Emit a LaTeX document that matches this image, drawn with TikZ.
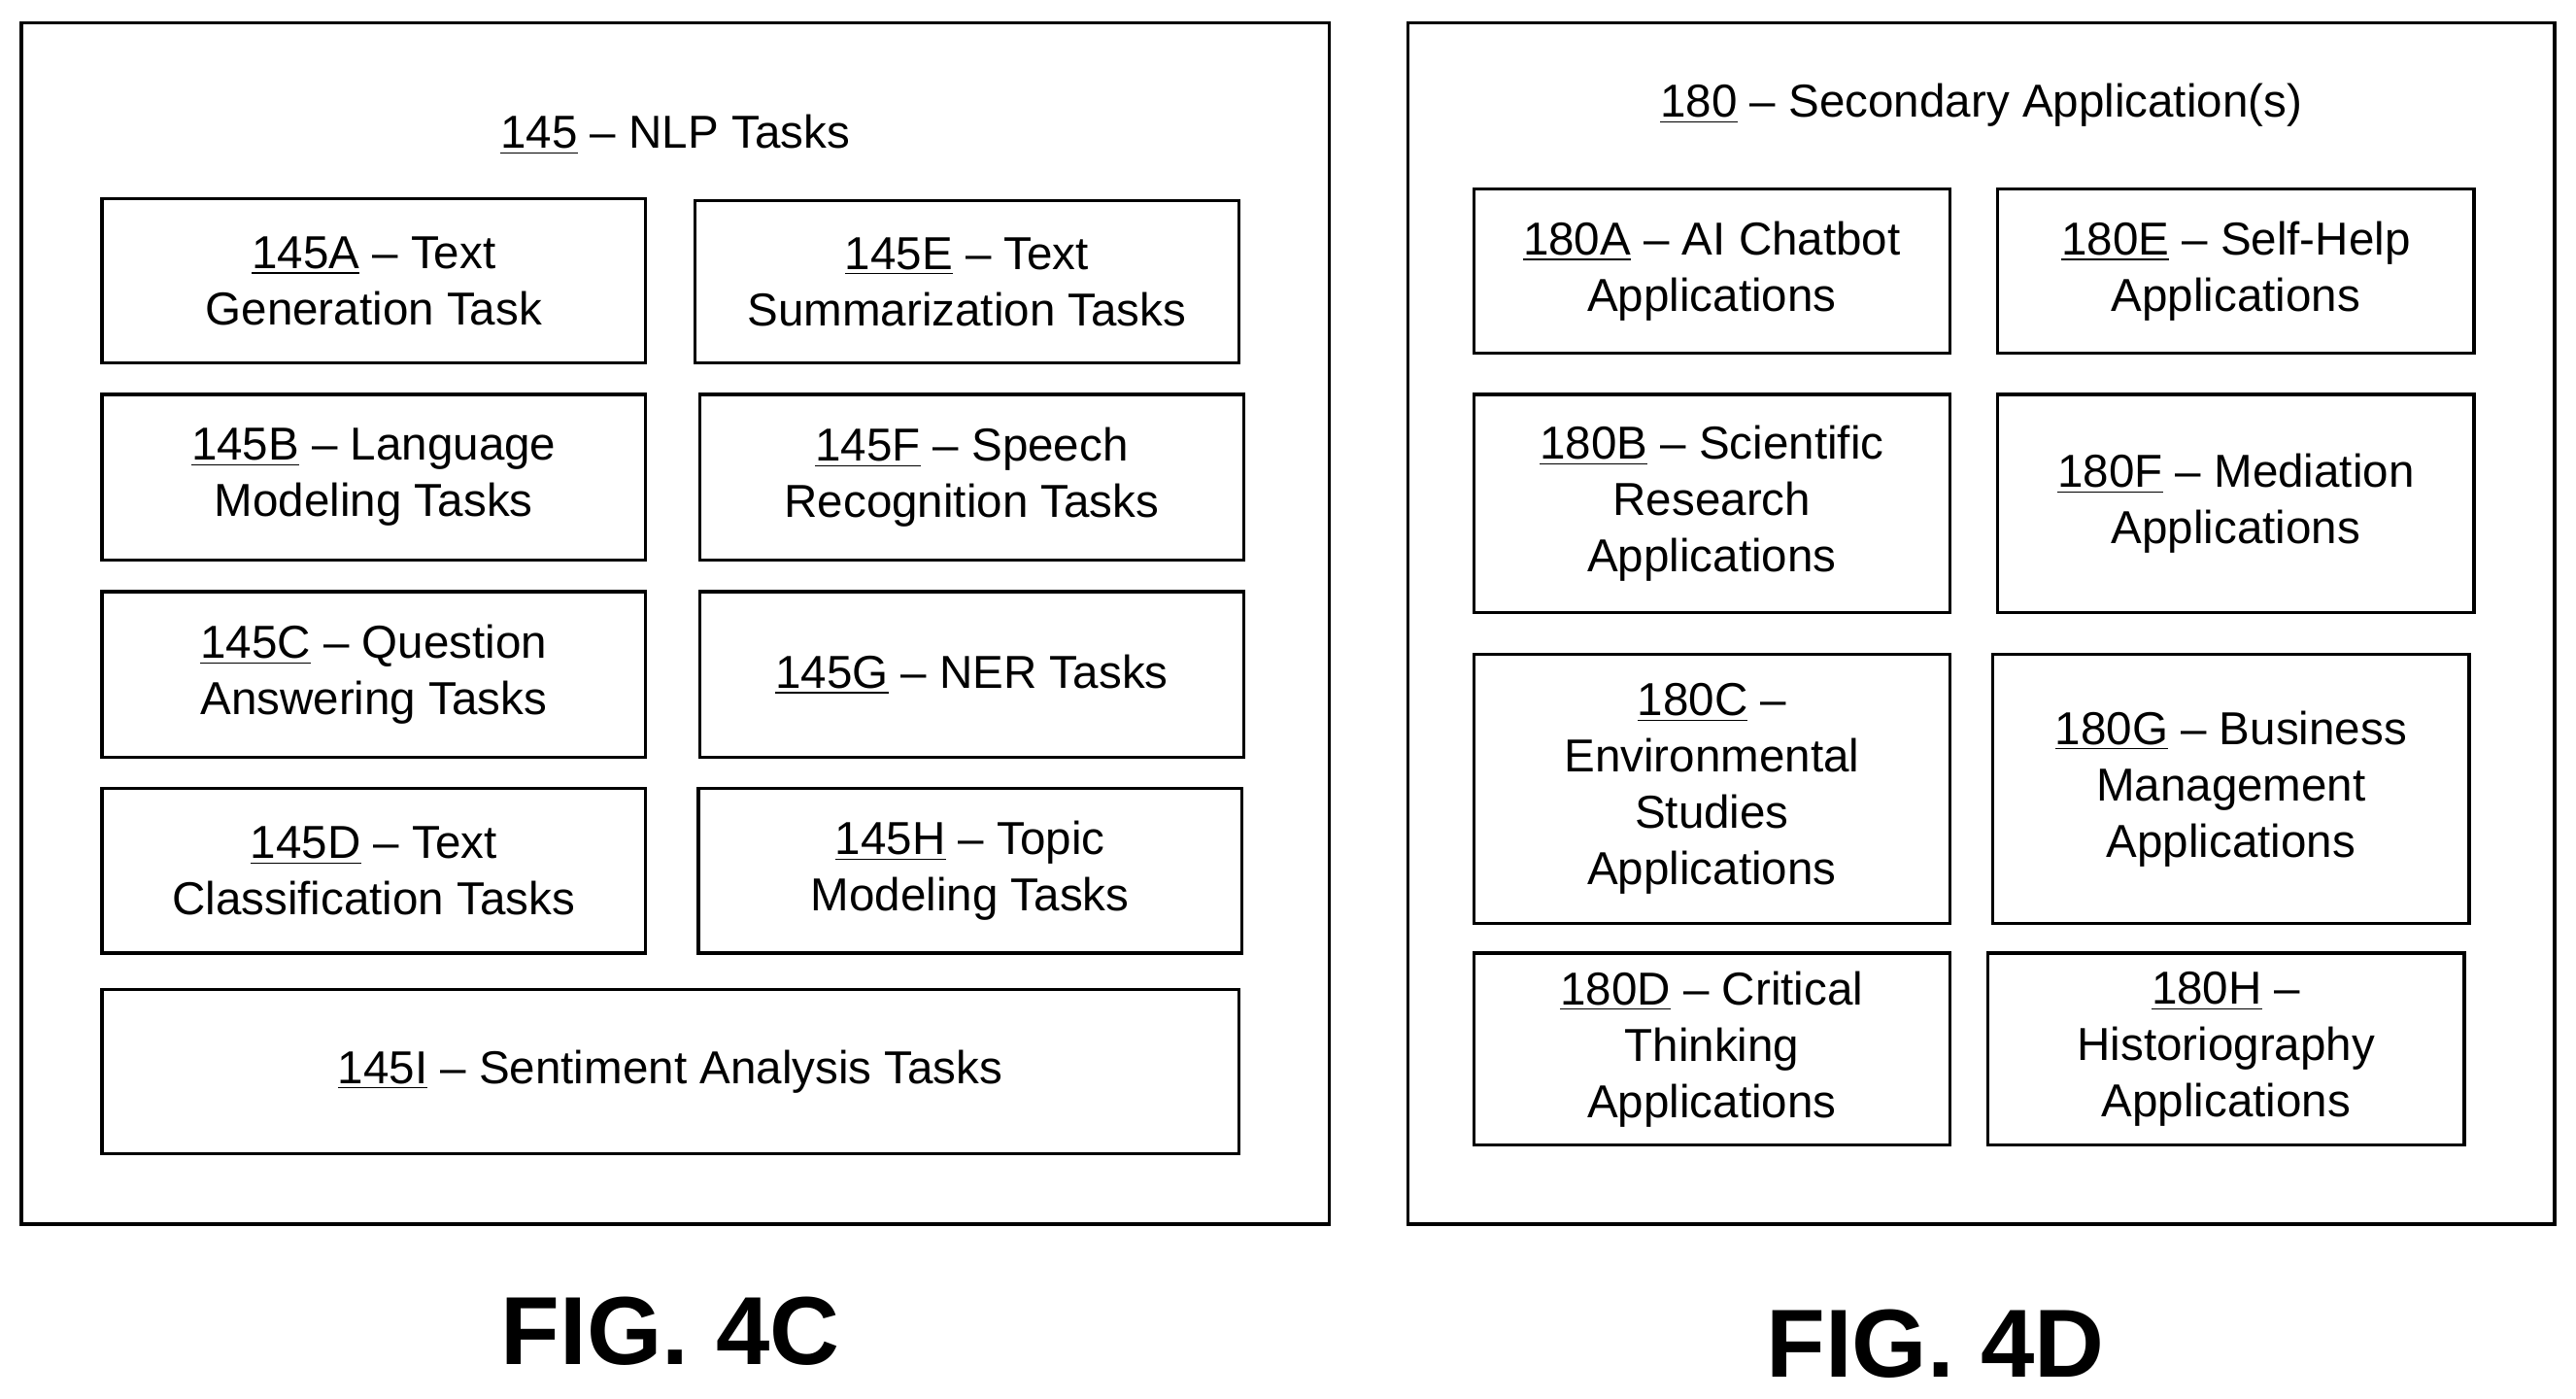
\documentclass[tikz,border=0pt]{standalone}
\usepackage{fontspec}
\setmainfont{Liberation Sans}
\begin{document}
\begin{tikzpicture}[x=0.02cm,y=-0.02cm,line width=1.1pt,
  task/.style={draw=black,align=center,inner sep=0pt,font=\fontsize{16}{19.5}\selectfont},
  frame/.style={draw=black,inner sep=0pt},
  figlabel/.style={font=\fontsize{33.5}{38}\selectfont\bfseries}]
\useasboundingbox (0,0) rectangle (1568,851);
\node[frame,minimum width=15.92cm,minimum height=14.62cm] (L) at (411,379.5) {};
\node[frame,minimum width=13.96cm,minimum height=14.62cm] (R) at (1206,379.5) {};
\node[task,draw=none] (Lt) at (411,82) {\underline{145} -- NLP Tasks};
\node[task,draw=none] (Rt) at (1206,64) {\underline{180} -- Secondary Application(s)};
\node[task,minimum width=6.62cm,minimum height=2cm] (A) at (227.5,171) {\underline{145A} -- Text\\Generation Task};
\node[task,minimum width=6.62cm,minimum height=1.98cm] (E) at (588.5,171.5) {\underline{145E} -- Text\\Summarization Tasks};
\node[task,minimum width=6.62cm,minimum height=2.02cm] (B) at (227.5,290.5) {\underline{145B} -- Language\\Modeling Tasks};
\node[task,minimum width=6.62cm,minimum height=2.02cm] (F) at (591.5,290.5) {\underline{145F} -- Speech\\Recognition Tasks};
\node[task,minimum width=6.62cm,minimum height=2.02cm] (C) at (227.5,410.5) {\underline{145C} -- Question\\Answering Tasks};
\node[task,minimum width=6.62cm,minimum height=2.02cm] (G) at (591.5,410.5) {\underline{145G} -- NER Tasks};
\node[task,minimum width=6.62cm,minimum height=2cm] (D) at (227.5,530) {\underline{145D} -- Text\\Classification Tasks};
\node[task,minimum width=6.62cm,minimum height=2cm] (H) at (590.5,530) {\underline{145H} -- Topic\\Modeling Tasks};
\node[task,minimum width=13.84cm,minimum height=2cm] (I) at (408,652) {\underline{145I} -- Sentiment Analysis Tasks};
\node[task,minimum width=5.8cm,minimum height=2cm] (SA) at (1042,165) {\underline{180A} -- AI Chatbot\\Applications};
\node[task,minimum width=5.8cm,minimum height=2cm] (SE) at (1361,165) {\underline{180E} -- Self-Help\\Applications};
\node[task,minimum width=5.8cm,minimum height=2.66cm] (SB) at (1042,306.5) {\underline{180B} -- Scientific\\Research\\Applications};
\node[task,minimum width=5.8cm,minimum height=2.66cm] (SF) at (1361,306.5) {\underline{180F} -- Mediation\\Applications};
\node[task,minimum width=5.8cm,minimum height=3.28cm] (SC) at (1042,480) {\underline{180C} --\\Environmental\\Studies\\Applications};
\node[task,minimum width=5.8cm,minimum height=3.28cm] (SG) at (1358,480) {\underline{180G} -- Business\\Management\\Applications};
\node[task,minimum width=5.8cm,minimum height=2.34cm] (SD) at (1042,638.5) {\underline{180D} -- Critical\\Thinking\\Applications};
\node[task,minimum width=5.8cm,minimum height=2.34cm] (SH) at (1355,638.5) {\underline{180H} --\\Historiography\\Applications};
\node[figlabel] (F4C) at (408,810) {FIG. 4C};
\node[figlabel] (F4D) at (1178,818) {FIG. 4D};
\end{tikzpicture}
\end{document}
